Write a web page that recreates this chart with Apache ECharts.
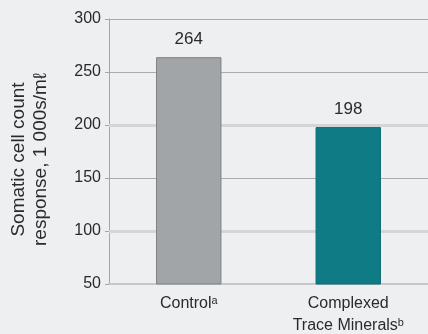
<!DOCTYPE html>
<html>
<head>
<meta charset="utf-8">
<script src="https://cdn.jsdelivr.net/npm/echarts@6/dist/echarts.min.js"></script>
<style>
  html, body { margin: 0; padding: 0; background: #eeeff1; }
  #chart { width: 428px; height: 334px; }
</style>
</head>
<body>
<div id="chart"></div>
<script>
const categories = ['Control\u1d43', 'Complexed\nTrace Minerals\u1d47'];
const values = [264, 198];
const barColors = ['#a1a5a7', '#0f7b85'];
const highlightLines = [100, 200];

const chart = echarts.init(document.getElementById('chart'));

chart.setOption({
  backgroundColor: '#eeeff1',
  animation: false,
  textStyle: { fontFamily: 'Liberation Sans, Arial, sans-serif' },
  grid: { left: 109, right: 0, top: 19, bottom: 50, outerBoundsMode: 'none' },
  xAxis: {
    type: 'category',
    data: categories,
    axisLine: { lineStyle: { color: '#c6c8ca', width: 2 } },
    axisTick: { show: false },
    axisLabel: { color: '#2a2a2a', fontSize: 16, lineHeight: 22, margin: 9 }
  },
  yAxis: {
    type: 'value',
    min: 50,
    max: 300,
    interval: 50,
    name: 'Somatic cell count\nresponse, 1 000s/m\u2113',
    nameLocation: 'middle',
    nameRotate: 90,
    nameGap: 57,
    nameTextStyle: { color: '#2a2a2a', fontSize: 19, lineHeight: 22, padding: [0, 16, 0, 0] },
    axisLine: { show: true, lineStyle: { color: '#a4a6a8', width: 1 } },
    axisTick: { show: true, length: 4, lineStyle: { color: '#a4a6a8' } },
    axisLabel: { color: '#2a2a2a', fontSize: 16, margin: 8 },
    splitLine: { lineStyle: { color: '#a9abad', width: 1 } }
  },
  series: [
    {
      type: 'line',
      data: [],
      z: 1,
      markLine: {
        z: 1,
        silent: true,
        symbol: 'none',
        label: { show: false },
        lineStyle: { color: '#d3d5d7', width: 3, type: 'solid' },
        data: highlightLines.map(v => ({ yAxis: v }))
      }
    },
    {
      type: 'bar',
      z: 3,
      barWidth: '41%',
      data: values.map((v, i) => ({
        value: v,
        itemStyle: {
          color: barColors[i],
          borderColor: i === 0 ? '#7e8284' : '#0c6a73',
          borderWidth: 1
        }
      })),
      label: {
        show: true,
        position: 'top',
        distance: 9,
        color: '#2a2a2a',
        fontSize: 17
      }
    }
  ]
});
</script>
</body>
</html>
